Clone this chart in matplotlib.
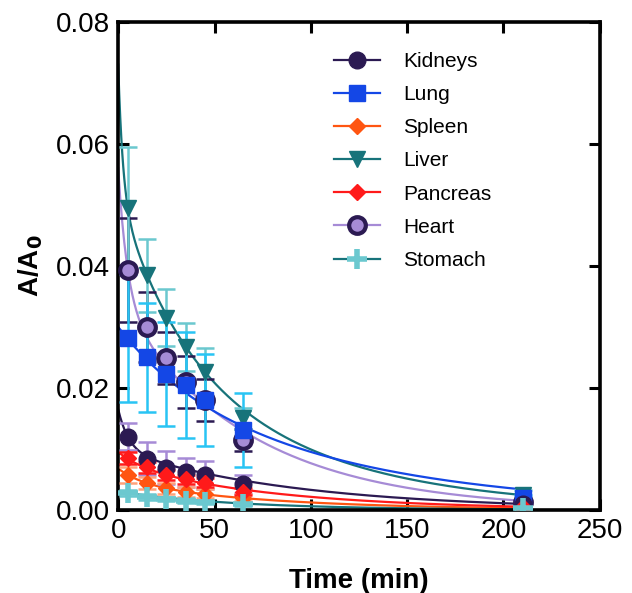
import numpy as np
import matplotlib.pyplot as plt
from matplotlib.ticker import FormatStrFormatter

plt.rcParams['font.family'] = ['Liberation Sans', 'DejaVu Sans']

# sampling times (min)
time = [5, 15, 25, 35, 45, 65, 210]

kidneys = [0.0120, 0.0084, 0.0069, 0.0062, 0.0057, 0.0043, 0.0010]
kidneys_err = [0.0022, 0.0027, 0.0027, 0.0024, 0.0023, 0.0015, 0.0005]
lung = [0.0282, 0.0250, 0.0223, 0.0205, 0.0180, 0.0131, 0.0020]
lung_err = [0.0105, 0.0090, 0.0085, 0.0087, 0.0075, 0.0060, 0.0005]
spleen = [0.0058, 0.0044, 0.0036, 0.0030, 0.0027, 0.0020, 0.0003]
spleen_err = [0.0013, 0.0010, 0.0009, 0.0008, 0.0008, 0.0006, 0.0002]
liver = [0.0495, 0.0385, 0.0315, 0.0267, 0.0226, 0.0150, 0.0025]
liver_err = [0.0100, 0.0060, 0.0047, 0.0040, 0.0040, 0.0017, 0.0008]
pancreas = [0.0085, 0.0070, 0.0057, 0.0050, 0.0045, 0.0030, 0.0005]
pancreas_err = [0.0010, 0.0009, 0.0008, 0.0008, 0.0007, 0.0006, 0.0002]
heart = [0.0393, 0.0300, 0.0249, 0.0210, 0.0180, 0.0115, 0.0013]
heart_err = [0.0085, 0.0057, 0.0043, 0.0043, 0.0034, 0.0018, 0.0004]
stomach = [0.0028, 0.0022, 0.0018, 0.0015, 0.0013, 0.0009, 0.0003]
stomach_err = [0.0005, 0.0005, 0.0004, 0.0004, 0.0004, 0.0003, 0.0001]

# fitted multi-exponential decay parameters: (amplitude, rate 1/min)
kidneys_fit = [(0.0067, 0.18), (0.0098, 0.0109)]
lung_fit = [(0.0079, 0.027), (0.0221, 0.009)]
spleen_fit = [(0.0023, 0.08), (0.0045, 0.013)]
liver_fit = [(0.0213, 0.41), (0.0217, 0.032), (0.030, 0.012)]
pancreas_fit = [(0.0020, 0.08), (0.0075, 0.0125)]
heart_fit = [(0.022, 0.207), (0.034, 0.0149)]
stomach_fit = [(0.0030, 0.016)]

dark = "#2b1a52"
series = [
    # label, y, err, fit, marker, ms, face, edge, mew, line col, err col
    ("Heart", heart, heart_err, heart_fit, "o", 12, "#a68bd6", dark, 3.0, "#a68bd6", dark),
    ("Liver", liver, liver_err, liver_fit, "v", 11, "#17737a", "#17737a", 1.0, "#17737a", "#6bc8cf"),
    ("Lung", lung, lung_err, lung_fit, "s", 11, "#1447e6", "#1447e6", 1.0, "#1447e6", "#28c4f4"),
    ("Kidneys", kidneys, kidneys_err, kidneys_fit, "o", 12, dark, dark, 1.0, dark, "#a68bd6"),
    ("Spleen", spleen, spleen_err, spleen_fit, "D", 8, "#ff5511", "#ff5511", 1.0, "#ff5511", "#ffa27a"),
    ("Pancreas", pancreas, pancreas_err, pancreas_fit, "D", 8, "#ff1a1a", "#ff1a1a", 1.0, "#ff1a1a", "#ff1a1a"),
    ("Stomach", stomach, stomach_err, stomach_fit, "+", 14, "#6bc8cf", "#6bc8cf", 4.0, "#17737a", "#6bc8cf"),
]

fig = plt.figure(figsize=(6.32, 5.93), dpi=100)
ax = fig.add_axes([0.187, 0.140, 0.762, 0.823])

tt = np.linspace(0, 210, 400)
handles = {}
for label, y, err, fit, mk, ms, fc, ec, mew, lc, errc in series:
    curve = sum(a * np.exp(-k * tt) for a, k in fit)
    ax.plot(tt, curve, color=lc, lw=1.6, zorder=2)
    ax.errorbar(time, y, yerr=err, fmt="none", ecolor=errc, elinewidth=1.8,
                capsize=6.5, capthick=1.8, zorder=3)
    ax.plot(time, y, ls="none", marker=mk, ms=ms, mfc=fc, mec=ec, mew=mew, zorder=4)
    h, = ax.plot([], [], color=lc, lw=1.6, marker=mk, ms=ms, mfc=fc, mec=ec, mew=mew)
    handles[label] = h

order = ["Kidneys", "Lung", "Spleen", "Liver", "Pancreas", "Heart", "Stomach"]
ax.legend([handles[o] for o in order], order, loc="upper left",
          bbox_to_anchor=(0.41, 0.977), frameon=False, fontsize=15,
          handlelength=2.2, labelspacing=0.68, handletextpad=1.1)

ax.set_xlim(0, 250)
ax.set_ylim(0, 0.08)
ax.set_xticks(np.arange(0, 251, 50))
ax.set_yticks(np.arange(0, 0.081, 0.02))
ax.yaxis.set_major_formatter(FormatStrFormatter("%.2f"))
ax.tick_params(direction="in", length=8, width=2.2, labelsize=20,
               top=True, right=True, pad=6)
for s in ax.spines.values():
    s.set_linewidth(2.6)

ax.set_xlabel("Time (min)", fontsize=20, fontweight="bold", labelpad=17)
ax.set_ylabel("A/A$_\\mathbf{0}$", fontsize=20, fontweight="bold", labelpad=8)

plt.savefig("out.png", dpi=100)
